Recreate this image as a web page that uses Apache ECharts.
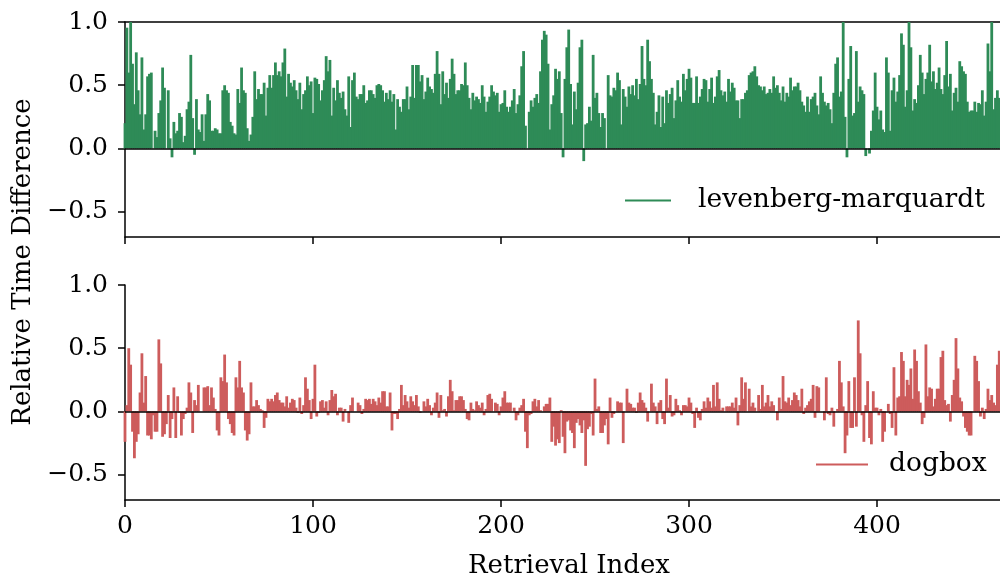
<!DOCTYPE html>
<html>
<head>
<meta charset="utf-8">
<script src="https://cdn.jsdelivr.net/npm/echarts@6/dist/echarts.min.js"></script>
<style>html,body{margin:0;padding:0;background:#fff}#c{width:1000px;height:578px}</style>
</head>
<body>
<div id="c"></div>
<script>
// ---- data ----
const xTicks = [0, 100, 200, 300, 400];
const yTicks = [-0.5, 0, 0.5, 1.0];
const seriesNames = ['levenberg-marquardt', 'dogbox'];

const lmDiff = [
0.20,0.955,0.60,1.0,0.67,0.35,0.76,0.46,0.27,0.72,
0.15,0.27,0.57,0.59,0.60,0.0,0.14,0.09,0.28,0.38,
0.64,0.48,0.0,0.46,0.08,-0.07,0.21,0.12,0.14,0.28,
0.25,0.05,0.10,0.31,0.37,0.74,0.24,-0.05,0.39,0.15,
0.13,0.27,0.06,0.27,0.43,0.38,0.14,0.14,0.16,0.15,
0.12,0.12,0.46,0.50,0.46,0.44,0.21,0.18,0.12,0.11,
0.47,0.36,0.64,0.46,0.44,0.16,0.06,0.11,0.25,0.61,
0.39,0.47,0.43,0.43,0.52,0.26,0.48,0.58,
0.48,0.58,0.68,0.58,0.61,0.57,0.68,0.79,0.41,0.59,
0.52,0.49,0.54,0.46,0.39,0.52,0.31,0.43,0.46,0.57,
0.50,0.53,0.28,0.56,0.55,0.51,0.38,0.46,0.54,0.73,
0.61,0.70,0.26,0.48,0.38,0.54,0.44,0.40,0.45,0.31,
0.26,0.57,0.17,0.54,0.60,0.41,0.39,0.43,0.43,0.50,
0.36,0.38,0.46,0.46,0.43,0.40,0.50,0.51,0.50,0.46,
0.37,0.44,0.39,0.46,0.37,0.43,0.15,0.39,0.33,0.29,
0.39,0.39,0.49,0.31,0.41,0.66,0.40,0.66,0.66,0.53,
0.58,
0.39,0.45,0.56,0.49,0.47,0.44,0.59,0.77,0.59,0.35,
0.61,0.43,0.52,0.40,0.55,0.71,0.59,0.43,0.46,0.46,
0.51,0.50,0.68,0.50,0.40,0.31,0.44,0.38,0.41,0.39,
0.36,0.50,0.41,0.29,0.37,0.41,0.50,0.45,0.42,0.44,
0.29,0.35,0.36,0.46,0.33,0.29,0.33,0.38,0.47,0.28,
0.35,0.42,0.65,0.77,0.18,0.0,0.29,0.38,0.33,0.40,
0.43,0.36,0.61,0.86,0.93,0.90,0.67,0.15,0.35,0.42,
0.63,0.55,0.61,0.28,-0.07,0.55,0.80,
0.94,0.51,0.19,0.45,0.31,0.52,0.80,0.86,-0.10,0.19,
0.20,0.33,0.22,0.74,0.40,0.44,0.28,0.17,0.28,0.24,
0.0,0.58,0.42,0.41,0.48,0.46,0.60,0.54,0.19,0.47,
0.41,0.33,0.49,0.43,0.50,0.42,0.55,0.39,0.51,0.81,
0.55,0.50,0.86,0.69,0.55,0.44,0.19,0.29,0.42,0.17,
0.41,0.20,0.46,0.36,0.43,0.48,0.24,0.38,0.54,0.41,
0.37,0.59,0.46,0.55,0.63,0.56,0.36,0.36,0.57,0.36,
0.41,0.47,0.55,0.54,0.37,0.47,0.56,0.36,0.41,
0.57,0.62,0.46,0.42,0.45,0.37,0.55,0.45,0.52,0.48,
0.38,0.38,0.24,0.39,0.39,0.44,0.46,0.58,0.60,0.61,
0.65,0.57,0.50,0.49,0.46,0.49,0.43,0.44,0.47,0.44,
0.57,0.48,0.50,0.44,0.38,0.49,0.37,0.44,0.41,0.56,
0.46,0.49,0.49,0.52,0.46,0.37,0.34,0.29,0.41,0.29,
0.39,0.41,0.44,0.34,0.27,0.57,0.44,0.37,0.34,0.36,
0.31,0.20,0.44,0.67,0.72,0.41,0.45,1.0,0.25,-0.07,
0.55,0.81,0.26,0.28,0.77,0.37,0.49,0.46,0.43,
-0.06,0.0,-0.04,0.14,0.30,0.60,0.33,0.23,0.30,0.15,
0.13,0.72,0.60,0.14,0.46,0.56,0.37,0.45,0.58,0.91,
0.82,0.33,0.46,1.0,0.80,0.30,0.39,0.36,0.50,0.74,
0.60,0.43,0.55,0.60,0.82,0.53,0.61,0.47,0.52,0.64,
0.47,0.43,0.58,0.85,0.49,0.59,0.30,0.44,0.48,0.37,
0.69,0.65,0.61,0.59,0.37,0.29,0.30,0.30,0.37,0.29,
0.36,0.35,0.46,0.26,0.37,0.83,0.61,1.0,0.31,0.40,
0.46,0.40
];

const dogboxDiff = [
-0.24,0.05,0.50,0.37,-0.16,-0.37,-0.24,-0.18,0.15,0.46,
0.07,0.28,-0.19,-0.19,-0.22,-0.03,-0.16,-0.16,0.57,0.38,
-0.20,-0.18,-0.10,0.13,-0.21,-0.06,0.19,-0.21,0.12,-0.01,
-0.19,-0.06,-0.02,0.03,0.23,0.15,-0.17,0.09,0.05,0.21,
0.0,0.0,0.19,0.19,0.20,0.05,0.19,0.11,0.02,-0.15,
-0.19,0.27,0.24,0.45,0.23,-0.06,-0.10,-0.17,-0.19,0.27,
0.19,0.40,0.19,0.15,-0.15,-0.23,-0.18,0.23,0.04,0.04,
0.09,0.05,0.02,0.01,-0.13,-0.05,0.10,0.08,
0.10,0.08,0.13,0.15,0.09,0.07,0.07,0.04,0.12,0.03,
0.07,0.10,0.09,0.03,-0.01,0.11,-0.02,0.05,0.27,0.18,
0.09,-0.06,0.10,0.37,-0.04,-0.01,0.08,0.09,0.03,0.08,
-0.03,0.09,0.17,0.12,0.14,-0.03,0.03,0.03,-0.08,0.02,
0.0,
-0.09,0.05,0.11,0.0,0.0,0.07,0.05,-0.02,0.02,0.10,
0.09,0.10,0.06,0.10,0.08,0.05,0.11,0.07,0.16,0.16,
0.04,0.04,0.15,-0.15,-0.02,-0.02,-0.06,0.02,0.21,0.05,
0.13,0.08,0.03,0.12,0.08,0.05,0.13,0.04,
-0.01,0.0,0.08,0.04,0.10,0.05,-0.03,0.03,0.07,0.15,
-0.05,0.13,0.01,0.02,-0.04,0.12,0.25,0.16,0.01,0.09,
0.09,0.12,0.12,0.09,0.02,-0.06,-0.07,0.07,0.02,0.01,
0.08,0.05,0.03,0.07,-0.03,0.02,0.13,0.14,0.10,0.0,
0.07,0.06,-0.03,0.04,0.11,0.16,0.07,0.07,0.07,0.0,
0.03,-0.07,-0.03,0.03,0.05,0.10,-0.16,-0.29,-0.03,-0.02,
0.08,0.10,0.04,0.09,0.01,0.0,0.04,0.06,0.06,0.11,
-0.24,-0.12,-0.27,-0.22,-0.25,0.01,-0.20,-0.33,-0.08,
-0.07,-0.15,-0.17,-0.29,-0.09,-0.06,-0.11,-0.17,-0.07,-0.43,
-0.14,-0.12,-0.02,-0.19,0.26,0.02,0.04,-0.17,-0.17,-0.11,
-0.06,-0.26,0.11,-0.05,-0.02,0.0,0.08,0.07,0.07,-0.25,
0.0,0.18,0.07,0.06,0.03,0.03,-0.01,0.07,0.15,0.09,
0.07,0.03,-0.08,0.0,0.22,0.07,0.04,-0.10,0.07,0.09,
-0.06,-0.10,0.26,0.03,0.13,-0.04,-0.03,0.10,0.05,0.01,
-0.03,0.05,0.05,0.04,0.11,0.07,-0.02,-0.13,0.03,-0.05,
-0.07,0.02,0.08,0.03,0.11,0.08,0.03,0.21,0.04,
0.23,0.10,0.01,0.03,0.0,0.04,0.04,0.04,0.07,0.03,
0.11,-0.11,0.05,0.27,0.10,0.23,0.0,0.18,0.04,0.07,
0.03,0.0,0.13,0.02,0.21,0.04,0.07,0.13,0.04,0.08,
0.05,0.0,-0.07,0.11,0.02,0.28,0.08,0.07,0.11,0.05,
0.09,0.15,0.13,0.09,0.04,0.18,-0.02,0.03,0.05,0.08,
0.10,0.21,-0.05,0.20,0.19,0.0,0.0,-0.07,0.27,-0.02,
-0.03,0.03,-0.12,0.0,0.02,0.40,0.23,0.04,-0.33,-0.19,
0.24,-0.13,-0.13,0.27,-0.12,0.72,0.46,-0.03,-0.24,
0.05,0.24,-0.21,-0.26,0.16,0.03,0.03,-0.03,0.02,-0.24,
-0.16,0.0,0.06,-0.02,-0.13,0.35,-0.19,0.11,0.12,0.47,0.40,
0.12,0.25,0.21,0.34,0.10,0.49,0.40,0.16,0.07,-0.10,
-0.05,0.53,0.12,0.19,0.18,0.04,0.10,0.18,0.18,0.43,0.48,
0.09,0.05,0.06,-0.08,0.13,0.25,0.58,0.34,0.11,0.08,
-0.04,-0.13,-0.16,-0.19,-0.19,0.0,0.44,0.40,0.24,-0.04,
0.03,-0.06,0.02,0.18,0.09,0.13,0.07,0.05,0.37,0.48
];

// ---- chart ----
const FONT = "'DejaVu Serif', serif";
const X_MAX = 465.4;
const colors = ['#2e8b57', '#cd5c5c'];
const fmtY = v => { const s = Math.abs(v).toFixed(1); return v < 0 ? '\u2212' + s : s; };

function xAxisCfg(gridIndex, showLabels) {
  return {
    type: 'value', gridIndex, min: 0, max: X_MAX, position: 'bottom',
    axisLine: { show: true, onZero: false, lineStyle: { color: '#000', width: 1.5 } },
    axisTick: { show: true, length: 7, lineStyle: { color: '#000', width: 1.5 }, customValues: xTicks },
    axisLabel: { show: showLabels, customValues: xTicks, margin: 14, color: '#000', fontFamily: FONT, fontSize: 25 },
    splitLine: { show: false }
  };
}
function yAxisCfg(gridIndex) {
  return {
    type: 'value', gridIndex, min: -0.7, max: 1.0,
    axisLine: { show: true, onZero: false, lineStyle: { color: '#000', width: 1.5 } },
    axisTick: { show: true, length: 7, lineStyle: { color: '#000', width: 1.5 }, customValues: yTicks },
    axisLabel: { customValues: yTicks, formatter: fmtY, margin: 17, color: '#000', fontFamily: FONT, fontSize: 25 },
    splitLine: { show: false }
  };
}
function barSeries(i, data) {
  return {
    name: seriesNames[i], type: 'bar', xAxisIndex: i, yAxisIndex: i,
    data: data.map((v, k) => [k, v]),
    barWidth: 2.8, itemStyle: { color: colors[i] }, clip: true,
    markLine: {
      silent: true, symbol: 'none', label: { show: false },
      lineStyle: { color: '#000', width: 1.5, type: 'solid' },
      data: [{ yAxis: 0 }]
    }
  };
}

const chart = echarts.init(document.getElementById('c'), null, { renderer: 'canvas' });
chart.setOption({
  animation: false,
  backgroundColor: '#fff',
  grid: [
    { left: 125, top: 22, width: 875, height: 215 },
    { left: 125, top: 285, width: 875, height: 215 }
  ],
  xAxis: [
    xAxisCfg(0, false),
    xAxisCfg(1, true),
    { type: 'value', gridIndex: 0, min: 0, max: X_MAX, position: 'top',
      axisLine: { show: true, onZero: false, lineStyle: { color: '#000', width: 1.5 } },
      axisTick: { show: false }, axisLabel: { show: false }, splitLine: { show: false } }
  ],
  yAxis: [ yAxisCfg(0), yAxisCfg(1) ],
  legend: [
    { data: [seriesNames[0]], left: 620, top: 182, icon: 'rect', itemWidth: 46, itemHeight: 2,
      textStyle: { fontFamily: FONT, fontSize: 26.5, color: '#000', padding: [0, 0, 0, 22] } },
    { data: [seriesNames[1]], left: 811, top: 446, icon: 'rect', itemWidth: 52, itemHeight: 2,
      textStyle: { fontFamily: FONT, fontSize: 26.5, color: '#000', padding: [0, 0, 0, 16] } }
  ],
  graphic: [
    { type: 'text', x: 23, y: 262, rotation: Math.PI / 2,
      style: { text: 'Relative Time Difference', fontFamily: FONT, fontSize: 26, fill: '#000',
               align: 'center', verticalAlign: 'middle', textAlign: 'center', textVerticalAlign: 'middle' } },
    { type: 'text', x: 569, y: 566,
      style: { text: 'Retrieval Index', fontFamily: FONT, fontSize: 26, fill: '#000',
               align: 'center', verticalAlign: 'middle', textAlign: 'center', textVerticalAlign: 'middle' } }
  ],
  series: [ barSeries(0, lmDiff), barSeries(1, dogboxDiff) ]
});
</script>
</body>
</html>
